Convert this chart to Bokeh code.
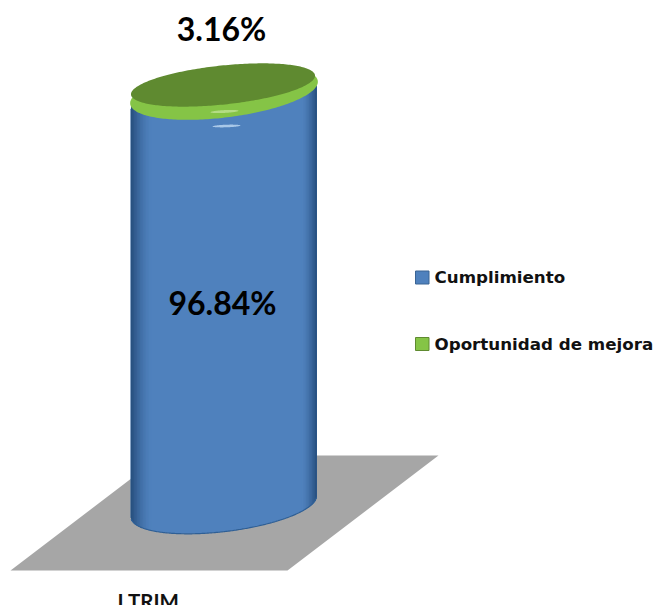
import numpy as np
from bokeh.plotting import figure
from bokeh.models import Range1d
from bokeh.core.properties import value
from bokeh.embed import file_html
from bokeh.resources import INLINE

categories = ["I TRIM"]
cumplimiento = [96.84]
oportunidad = [3.16]
legend_labels = ["Cumplimiento", "Oportunidad de mejora"]

W, H = 656, 605
PX0, PX100 = 506.0, 85.0   # screen rows of the 0 and 100 levels
unit = (PX0 - PX100) / 100.0

p = figure(width=W, height=H, output_backend="svg", toolbar_location=None,
           x_range=Range1d(0, W),
           y_range=Range1d((PX0 - H) / unit, PX0 / unit),
           min_border=0, min_border_left=0, min_border_right=0,
           min_border_top=0, min_border_bottom=0,
           background_fill_color="white", border_fill_color="white",
           outline_line_color=None,
           styles={"position": "absolute", "left": "0px", "top": "0px"})
p.extra_y_ranges = {"px": Range1d(H, 0)}
p.axis.visible = False
p.grid.visible = False


def ellipse(cx, cy, a, b, phi_deg):
    t = np.linspace(0, 2 * np.pi, 241)
    phi = np.radians(phi_deg)
    return (cx + a * np.cos(t) * np.cos(phi) + b * np.sin(t) * np.sin(phi),
            cy - a * np.cos(t) * np.sin(phi) + b * np.sin(t) * np.cos(phi))


def arcs(dx, a, b, phi_deg):
    phi = np.radians(phi_deg)
    c, s = np.cos(phi), np.sin(phi)
    A = s**2 / a**2 + c**2 / b**2
    B = 2 * dx * c * s * (1 / b**2 - 1 / a**2)
    C = dx**2 * (c**2 / a**2 + s**2 / b**2) - 1
    D = np.sqrt(np.maximum(B**2 - 4 * A * C, 0))
    return (-B - D) / (2 * A), (-B + D) / (2 * A)


def mix(c1, c2, f):
    return "#%02x%02x%02x" % tuple(int(round(x + (y - x) * f)) for x, y in zip(c1, c2))


# floor
p.patch([10, 287, 438, 161], [570, 570, 455, 455], y_range_name="px",
        fill_color="#a6a6a6", line_color=None)

# blue body, from the value scale
CX, A_, B_, PHI = 223.3, 93.5, 25.0, 7.0
half = np.sqrt(A_**2 * np.cos(np.radians(PHI))**2 + B_**2 * np.sin(np.radians(PHI))**2)
MID = (79, 129, 189)
DARK = (38, 78, 125)
top_level = cumplimiento[0]


def body(x0, x1, colour):
    xs = np.linspace(x0, x1, 60)
    clipped = np.clip(xs, -half + 0.01, half - 0.01)
    up, lo = arcs(clipped, A_, B_, PHI)
    p.patch(np.r_[CX + xs, CX + xs[::-1]],
            np.r_[top_level - up / unit, (0 - lo / unit)[::-1]],
            fill_color=colour, line_color=None)


body(-half, half, "#4f81bd")
# edge shading: painted from each edge inwards, so no seams are left between strips
step = 1.5
for e in np.arange(-half, 0, step)[::-1]:
    f = max(0.0, (abs(e + step / 2) / half - 0.78) / 0.22) ** 1.5
    if f > 0:
        body(-half, e + step, mix(MID, DARK, f))
for e in np.arange(half, 0, -step)[::-1]:
    f = max(0.0, (abs(e - step / 2) / half - 0.84) / 0.16) ** 1.5
    if f > 0:
        body(e - step, half, mix(MID, DARK, f))

# darker lower rim of the body
dxs = np.linspace(-half + 0.2, half - 0.2, 160)
_, lo = arcs(dxs, A_, B_, PHI)
p.line(CX + dxs, 0 - lo / unit, line_color="#2f5f95", line_width=1.2)

# small highlight on the blue body
hx, hy = ellipse(226, 125.5, 14, 1.3, 2)
p.patch(hx, hy, y_range_name="px", fill_color="#a9c8e8", line_color=None)

# green slice: rim and top face, from the value scale
total = cumplimiento[0] + oportunidad[0]
rx, ry = ellipse(223.5, 92, 94.5, 25, 7.0)
p.patch(rx, ry, y_range_name="px", fill_color="#85c446", line_color=None)
hx, hy = ellipse(224, 111, 14, 1.4, 3)
p.patch(hx, hy, y_range_name="px", fill_color="#b4dc84", line_color=None)
tx, ty = ellipse(222.5, -0.5, 92.5, 19.5, 6.0)
p.patch(tx, total - ty / unit, fill_color="#5f8a30", line_color=None)

# value labels
p.text([221], [28], text=[f"{oportunidad[0]:.2f}%"], y_range_name="px",
       text_font=value("Lato"), text_font_style="bold", text_font_size="32px",
       text_color="#000000", text_align="center", text_baseline="middle")
p.text([222], [302], text=[f"{cumplimiento[0]:.2f}%"], y_range_name="px",
       text_font=value("Lato"), text_font_style="bold", text_font_size="32px",
       text_color="#000000", text_align="center", text_baseline="middle")

# category label, cut by the lower edge as in the source
p.text([148], [600], text=categories, y_range_name="px",
       text_font=value("Lato"), text_font_style="bold", text_font_size="20.5px",
       text_color="#111111", text_align="center", text_baseline="middle")

# legend
for lab, col, edge, yc in zip(legend_labels, ["#4f81bd", "#85c446"], ["#3a6494", "#5f8a30"], [277, 343.5]):
    p.quad(left=[415], right=[428.5], top=[yc - 6.5], bottom=[yc + 6.5], y_range_name="px",
           fill_color=col, line_color=edge, line_width=1)
    p.text([434], [yc - 0.5], text=[lab], y_range_name="px",
           text_font=value("DejaVu Sans"), text_font_style="bold", text_font_size="16.7px",
           text_color="#111111", text_align="left", text_baseline="middle")

open("out.html", "w").write(file_html(p, INLINE))
